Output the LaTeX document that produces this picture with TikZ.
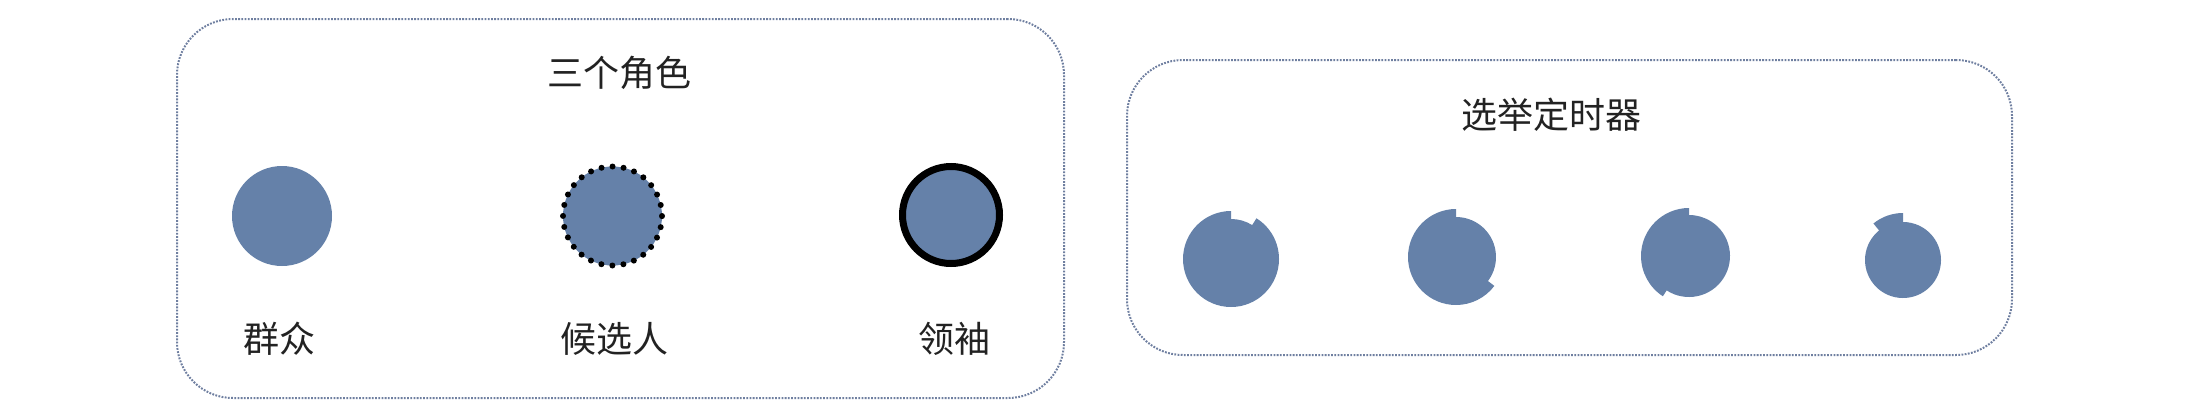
\documentclass[tikz,border=0pt]{standalone}
\usepackage{fontspec}
\setmainfont{Noto Sans CJK SC}
\definecolor{disk}{HTML}{6581A9}
\definecolor{frame}{HTML}{6F7FA0}
\definecolor{txt}{HTML}{222222}
\tikzset{
  panel/.style={draw=frame, line width=2pt, dash pattern=on 1.8pt off 1.4pt, rounded corners=56pt, inner sep=0pt},
  title/.style={font=\fontsize{36}{40}\selectfont, text=txt, inner sep=0pt},
  role/.style={font=\fontsize{36}{40}\selectfont, text=txt, inner sep=0pt},
  plain/.style={circle, fill=disk, inner sep=0pt, minimum size=100pt},
  dotring/.style={circle, fill=disk, inner sep=0pt, minimum size=99pt, draw=black, line width=6pt, dash pattern=on 0pt off 11.1pt, line cap=round},
  thickring/.style={circle, fill=disk, inner sep=0pt, minimum size=97pt, draw=black, line width=7pt},
  timer/.style={fill=disk}
}
\begin{document}
\begin{tikzpicture}[x=1pt,y=1pt]
\useasboundingbox (0,0) rectangle (2198,-410);
% panels
\node[panel, minimum width=887pt, minimum height=379pt] (box1) at (620.5,-208.5) {};
\node[panel, minimum width=885pt, minimum height=295pt] (box2) at (1569.5,-207.5) {};
% titles
\node[title] (t1) at (619,-73) {三个角色};
\node[title] (t2) at (1551,-115) {选举定时器};
% roles
\node[plain] (c1) at (282,-216) {};
\node[dotring] (c2) at (612.5,-216) {};
\node[thickring] (c3) at (951,-215) {};
\node[role] (l1) at (279,-339) {群众};
\node[role] (l2) at (614,-339) {候选人};
\node[role] (l3) at (954,-339) {领袖};
% timers
\coordinate (k1) at (1231,-259);
\coordinate (k2) at (1456,-257);
\coordinate (k3) at (1689,-256);
\coordinate (k4) at (1903,-260);
\fill[timer, shift={(k1)}] (90:48) arc[start angle=90, end angle=418, radius=48] -- (418:40) arc[start angle=418, end angle=450, radius=40] -- cycle;
\fill[timer, shift={(k2)}] (90:48) arc[start angle=90, end angle=323, radius=48] -- (323:40) arc[start angle=323, end angle=450, radius=40] -- cycle;
\fill[timer, shift={(k3)}] (90:48) arc[start angle=90, end angle=237, radius=48] -- (237:41) arc[start angle=237, end angle=450, radius=41] -- cycle;
\fill[timer, shift={(k4)}] (90:47) arc[start angle=90, end angle=129, radius=47] -- (129:38) arc[start angle=129, end angle=450, radius=38] -- cycle;
\end{tikzpicture}
\end{document}
